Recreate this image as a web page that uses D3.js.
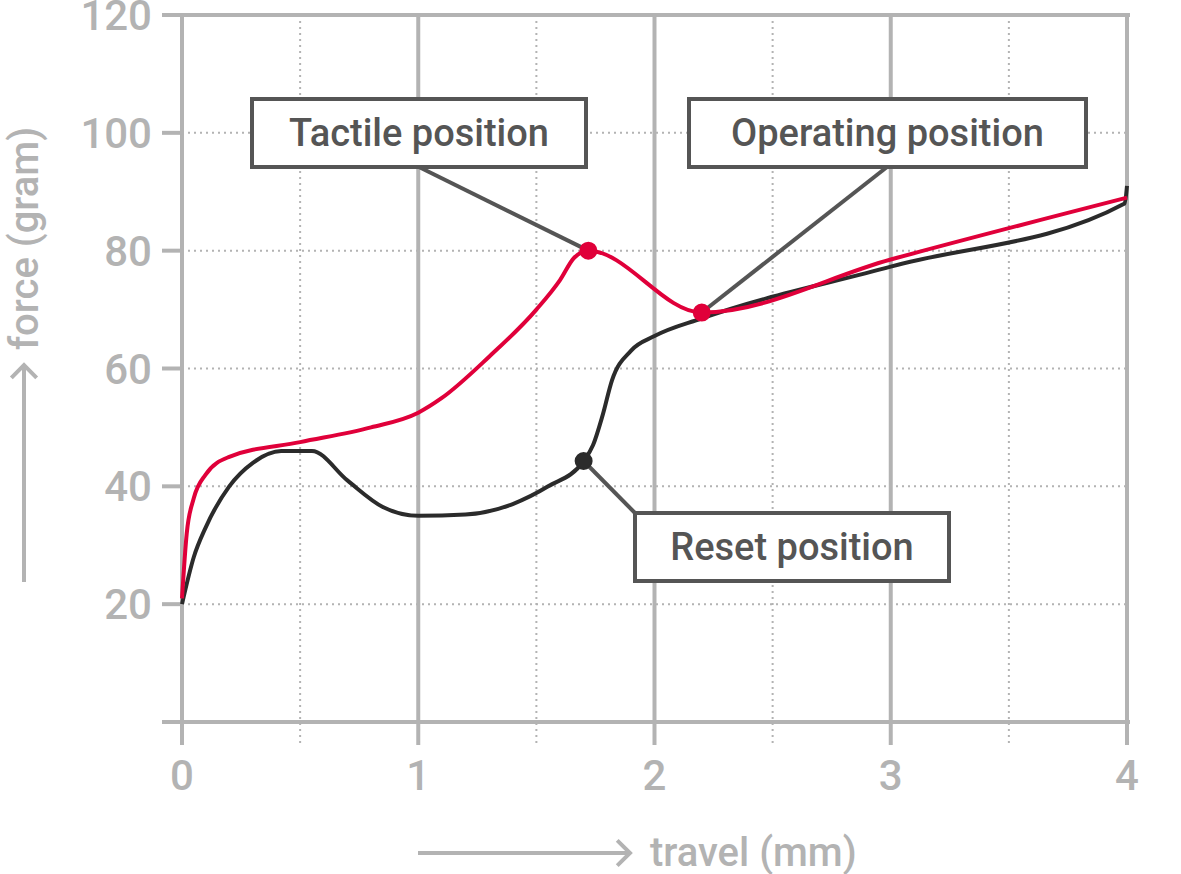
<!DOCTYPE html><html><head><meta charset="utf-8"><script src="https://cdn.jsdelivr.net/npm/d3@7"></script>
<style>body{margin:0;background:#fff}text{font-family:Roboto,"DejaVu Sans",sans-serif;font-weight:500}</style></head><body>
<svg id="c" width="1181" height="874"></svg>
<script>
const xTicks=[0,1,2,3,4];
const xMinor=[0.5,1.5,2.5,3.5];
const yTicks=[20,40,60,80,100,120];
const redX=[0,0.02,0.05,0.1,0.2,0.5,0.8,1.0,1.1,1.3,1.5,1.6,1.66,1.72,2.2,3,4];
const redY=[21,32,38,42,45,47.5,50,52.5,55,62,70,75,78.8,80,69.5,78.5,89];
const blackX=[0,0.05,0.1,0.2,0.3,0.42,0.55,0.7,0.85,1.0,1.2,1.4,1.55,1.7,1.74,1.78,1.82,1.9,2.0,2.2,3,3.99,4.0];
const blackY=[20,28,33,40,44,46,46,41,36.5,35,35.2,37,40,44.3,47,52,58,63,65.5,68.5,77.3,88,91];
const notes=[{t:"Tactile position",x:1.72,y:80,bx:[252,586],by:[99,167],ax:419,ay:167},
 {t:"Operating position",x:2.2,y:69.5,bx:[689,1086],by:[99,167],ax:887,ay:167},
 {t:"Reset position",x:1.7,y:44.3,bx:[635,949],by:[513,581],ax:637,ay:515}];
const svg=d3.select("#c");
const x=d3.scaleLinear().domain([0,4]).range([182,1127]);
const y=d3.scaleLinear().domain([0,120]).range([722,15]);
const G="#b3b3b3";
svg.selectAll(".hg").data(yTicks.slice(0,-1)).join("line").attr("x1",182).attr("x2",1127).attr("y1",d=>y(d)).attr("y2",d=>y(d)).attr("stroke",G).attr("stroke-width",2).attr("stroke-dasharray","2,4");
svg.selectAll(".vm").data(xMinor).join("line").attr("x1",d=>x(d)).attr("x2",d=>x(d)).attr("y1",15).attr("y2",745).attr("stroke",G).attr("stroke-width",2).attr("stroke-dasharray","2,4");
svg.selectAll(".vM").data(xTicks).join("line").attr("x1",d=>x(d)).attr("x2",d=>x(d)).attr("y1",15).attr("y2",745).attr("stroke",G).attr("stroke-width",4);
svg.selectAll(".ys").data(yTicks).join("line").attr("x1",162).attr("x2",d=>d===120?1130:182).attr("y1",d=>y(d)).attr("y2",d=>y(d)).attr("stroke",G).attr("stroke-width",4);
svg.append("line").attr("x1",162).attr("x2",1130).attr("y1",y(0)).attr("y2",y(0)).attr("stroke",G).attr("stroke-width",4);
svg.selectAll(".yl").data(yTicks).join("text").attr("x",152).attr("y",d=>y(d)+15).attr("text-anchor","end").attr("font-size",42).attr("fill",G).text(d=>d);
svg.selectAll(".xl").data(xTicks).join("text").attr("x",d=>x(d)).attr("y",790).attr("text-anchor","middle").attr("font-size",42).attr("fill",G).text(d=>d);
function arrow(x1,y1,x2,y2){svg.append("line").attr("x1",x1).attr("y1",y1).attr("x2",x2).attr("y2",y2).attr("stroke",G).attr("stroke-width",4);
 const a=Math.atan2(y2-y1,x2-x1),L=18;
 svg.append("path").attr("d",`M${x2-L*Math.cos(a-0.78)},${y2-L*Math.sin(a-0.78)}L${x2},${y2}L${x2-L*Math.cos(a+0.78)},${y2-L*Math.sin(a+0.78)}`).attr("fill","none").attr("stroke",G).attr("stroke-width",4);}
arrow(418,853,630,853);
svg.append("text").attr("x",650).attr("y",866).attr("font-size",40).attr("fill",G).text("travel (mm)");
arrow(24,582,24,365);
svg.append("text").attr("transform","translate(38,350) rotate(-90)").attr("font-size",40).attr("fill",G).text("force (gram)");
const lineC=d3.line().x(d=>x(d[0])).y(d=>y(d[1])).curve(d3.curveMonotoneX);
svg.append("path").attr("d",lineC(d3.zip(blackX,blackY))).attr("fill","none").attr("stroke","#2b2b2b").attr("stroke-width",4);
svg.append("path").attr("d",lineC(d3.zip(redX,redY))).attr("fill","none").attr("stroke","#e0003a").attr("stroke-width",4);
const D="#555";
notes.forEach((n,i)=>{
 svg.append("line").attr("x1",n.ax).attr("y1",n.ay).attr("x2",x(n.x)).attr("y2",y(n.y)).attr("stroke",D).attr("stroke-width",4);
 svg.append("circle").attr("cx",x(n.x)).attr("cy",y(n.y)).attr("r",8).attr("fill",i<2?"#e0003a":"#2b2b2b").attr("stroke",i<2?"#e0003a":"#2b2b2b").attr("stroke-width",2);
 svg.append("rect").attr("x",n.bx[0]).attr("y",n.by[0]).attr("width",n.bx[1]-n.bx[0]).attr("height",n.by[1]-n.by[0]).attr("fill","#fff").attr("stroke",D).attr("stroke-width",4);
 svg.append("text").attr("x",(n.bx[0]+n.bx[1])/2).attr("y",(n.by[0]+n.by[1])/2+13).attr("text-anchor","middle").attr("font-size",38).attr("fill",D).text(n.t);
});
</script></body></html>
